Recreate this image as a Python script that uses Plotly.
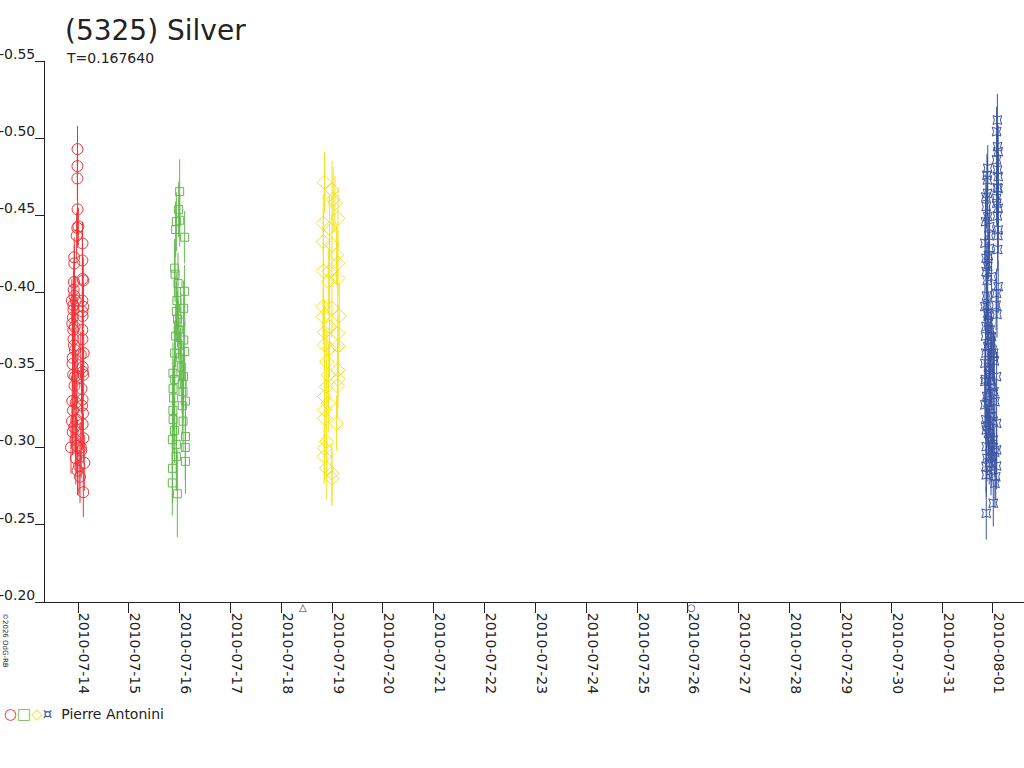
import plotly.graph_objects as go

FONT = "DejaVu Sans"
TXT = "#222222"

# ---------------- data ----------------
red_t = ["2010-07-13 23:46","2010-07-13 23:44","2010-07-13 23:42","2010-07-13 23:48","2010-07-13 23:40","2010-07-14 00:10","2010-07-13 23:22","2010-07-14 02:07","2010-07-13 22:13","2010-07-13 22:16",
"2010-07-14 02:04","2010-07-13 22:05","2010-07-14 02:09","2010-07-14 02:30","2010-07-13 22:15","2010-07-13 22:55","2010-07-14 02:04","2010-07-13 21:48","2010-07-14 02:30","2010-07-13 21:50",
"2010-07-14 02:05","2010-07-14 02:10","2010-07-13 21:19","2010-07-13 21:46","2010-07-14 02:03","2010-07-13 21:52","2010-07-14 02:06","2010-07-13 22:35","2010-07-14 01:19","2010-07-13 21:25",
"2010-07-14 02:12","2010-07-13 21:44","2010-07-14 02:28","2010-07-14 02:14","2010-07-13 22:38","2010-07-13 21:17","2010-07-14 02:08","2010-07-13 23:00","2010-07-13 21:12","2010-07-14 02:11",
"2010-07-13 21:28","2010-07-14 02:32","2010-07-13 20:41","2010-07-13 23:24","2010-07-14 01:21","2010-07-13 22:58","2010-07-14 02:58","2010-07-13 23:47","2010-07-14 00:57","2010-07-14 02:30",
"2010-07-13 21:05","2010-07-13 21:35","2010-07-13 22:05","2010-07-13 21:30","2010-07-13 22:20","2010-07-13 21:40","2010-07-13 22:10","2010-07-13 22:45","2010-07-14 01:40","2010-07-14 01:55",
"2010-07-14 02:20","2010-07-14 01:30","2010-07-13 23:10","2010-07-13 23:30","2010-07-14 00:30","2010-07-13 22:25","2010-07-13 21:58","2010-07-14 02:40"]
red_mag = [-0.493,-0.482,-0.474,-0.454,-0.442,-0.443,-0.437,-0.432,-0.423,-0.419,
-0.421,-0.407,-0.409,-0.408,-0.398,-0.395,-0.395,-0.392,-0.391,-0.389,
-0.388,-0.385,-0.380,-0.376,-0.376,-0.370,-0.370,-0.363,-0.360,-0.354,
-0.352,-0.347,-0.347,-0.349,-0.346,-0.330,-0.331,-0.329,-0.317,-0.315,
-0.310,-0.306,-0.300,-0.301,-0.300,-0.293,-0.290,-0.285,-0.281,-0.271,
-0.395,-0.384,-0.366,-0.358,-0.340,-0.324,-0.313,-0.305,-0.338,-0.327,
-0.322,-0.298,-0.318,-0.345,-0.288,-0.378,-0.402,-0.361]
red_err = [0.015,0.012,0.014,0.016,0.013,0.012,0.015,0.014,0.013,0.012,
0.016,0.014,0.013,0.015,0.014,0.016,0.013,0.015,0.014,0.016,
0.012,0.015,0.014,0.016,0.013,0.015,0.016,0.014,0.015,0.016,
0.014,0.015,0.016,0.013,0.017,0.015,0.016,0.018,0.016,0.017,
0.015,0.016,0.017,0.018,0.016,0.017,0.018,0.016,0.017,0.016,
0.014,0.015,0.016,0.015,0.016,0.017,0.016,0.017,0.016,0.016,
0.017,0.018,0.017,0.016,0.018,0.015,0.014,0.015]

green_t = ["2010-07-16 00:00","2010-07-15 23:32","2010-07-16 00:02","2010-07-15 22:26","2010-07-15 22:07","2010-07-16 02:22","2010-07-15 21:38","2010-07-15 21:50","2010-07-15 23:13","2010-07-16 02:20",
"2010-07-15 22:26","2010-07-16 01:53","2010-07-15 22:07","2010-07-16 01:55","2010-07-15 21:38","2010-07-16 02:22","2010-07-15 20:50","2010-07-15 21:40","2010-07-16 01:50","2010-07-15 20:52",
"2010-07-16 01:34","2010-07-16 02:43","2010-07-15 20:48","2010-07-15 20:55","2010-07-16 01:36","2010-07-15 21:36","2010-07-15 20:33","2010-07-16 02:45","2010-07-15 22:24","2010-07-16 02:40",
"2010-07-15 22:28","2010-07-16 02:43","2010-07-15 20:35","2010-07-15 20:31","2010-07-15 22:54","2010-07-15 23:00","2010-07-15 23:20","2010-07-15 23:45","2010-07-16 00:20","2010-07-16 00:45",
"2010-07-16 01:10","2010-07-15 22:40","2010-07-16 00:35","2010-07-16 01:15","2010-07-15 21:10"]
green_mag = [-0.4655,-0.454,-0.447,-0.446,-0.441,-0.436,-0.416,-0.412,-0.406,-0.401,
-0.388,-0.390,-0.372,-0.3695,-0.361,-0.362,-0.348,-0.344,-0.346,-0.338,
-0.336,-0.330,-0.324,-0.318,-0.317,-0.311,-0.305,-0.307,-0.302,-0.300,
-0.294,-0.291,-0.2865,-0.277,-0.270,-0.383,-0.376,-0.366,-0.358,-0.352,
-0.341,-0.395,-0.381,-0.327,-0.332]
green_err = [0.021,0.018,0.017,0.019,0.018,0.017,0.019,0.018,0.020,0.017,
0.019,0.018,0.020,0.018,0.021,0.019,0.020,0.019,0.021,0.019,
0.020,0.019,0.021,0.022,0.020,0.021,0.020,0.022,0.020,0.021,
0.022,0.021,0.022,0.021,0.028,0.018,0.019,0.018,0.019,0.018,
0.019,0.018,0.019,0.018,0.021]

yellow_t = ["2010-07-18 20:24","2010-07-18 23:56","2010-07-19 00:30","2010-07-19 01:18","2010-07-19 02:44","2010-07-18 19:48","2010-07-18 22:44","2010-07-18 19:50","2010-07-18 23:52","2010-07-19 02:06",
"2010-07-19 02:42","2010-07-18 19:52","2010-07-18 22:40","2010-07-19 02:40","2010-07-18 22:12","2010-07-18 19:46","2010-07-18 23:54","2010-07-19 03:21","2010-07-18 19:48","2010-07-18 22:40",
"2010-07-19 02:42","2010-07-18 20:26","2010-07-18 20:22","2010-07-19 02:45","2010-07-18 22:44","2010-07-18 21:24","2010-07-19 02:42","2010-07-18 22:12","2010-07-19 02:44","2010-07-19 02:30",
"2010-07-18 21:24","2010-07-18 20:26","2010-07-18 22:10","2010-07-18 20:30","2010-07-19 02:06","2010-07-18 20:28","2010-07-18 21:22","2010-07-18 20:26","2010-07-18 20:14","2010-07-18 21:26",
"2010-07-18 23:50","2010-07-18 23:56"]
yellow_mag = [-0.4715,-0.4666,-0.4605,-0.4579,-0.4482,-0.445,-0.4418,-0.4331,-0.431,-0.4245,
-0.4191,-0.4142,-0.4137,-0.4094,-0.4073,-0.3911,-0.390,-0.3851,-0.3846,-0.3782,
-0.3738,-0.3745,-0.3663,-0.3657,-0.3641,-0.3555,-0.3501,-0.3469,-0.3441,-0.3398,
-0.3393,-0.3329,-0.3286,-0.3243,-0.3156,-0.3189,-0.3038,-0.2995,-0.2941,-0.2865,
-0.2833,-0.2801]
yellow_err = [0.020,0.019,0.021,0.018,0.020,0.019,0.021,0.018,0.020,0.019,
0.021,0.018,0.020,0.019,0.021,0.020,0.019,0.021,0.018,0.020,
0.019,0.021,0.018,0.020,0.019,0.021,0.018,0.020,0.019,0.021,
0.018,0.020,0.019,0.021,0.018,0.020,0.019,0.021,0.018,0.020,
0.019,0.018]

blue_t = ["2010-08-01 02:06","2010-08-01 01:44","2010-08-01 02:10","2010-08-01 02:30","2010-08-01 01:44","2010-07-31 21:33","2010-08-01 02:08","2010-08-01 02:30","2010-07-31 21:25","2010-08-01 02:28",
"2010-07-31 21:28","2010-08-01 01:44","2010-07-31 20:51","2010-08-01 02:30","2010-07-31 21:33","2010-08-01 02:06","2010-07-31 22:26","2010-08-01 02:30","2010-07-31 20:13","2010-07-31 22:20",
"2010-07-31 20:45","2010-07-31 21:33","2010-07-31 20:48","2010-07-31 23:22","2010-08-01 02:30","2010-08-01 01:44","2010-07-31 20:13","2010-07-31 21:33","2010-07-31 20:45","2010-07-31 23:22",
"2010-07-31 21:35","2010-08-01 00:10","2010-07-31 20:13","2010-07-31 22:26","2010-08-01 01:44","2010-07-31 20:15","2010-07-31 22:20","2010-08-01 00:57","2010-07-31 20:13","2010-07-31 22:26",
"2010-08-01 01:44","2010-07-31 20:51","2010-08-01 00:10","2010-08-01 01:44","2010-07-31 20:51","2010-07-31 23:22","2010-07-31 20:45","2010-08-01 01:44","2010-07-31 20:51","2010-08-01 00:57",
"2010-08-01 00:10","2010-07-31 20:51",
"2010-07-31 21:00","2010-07-31 21:15","2010-07-31 21:45","2010-07-31 22:00","2010-07-31 22:40","2010-07-31 23:00","2010-07-31 23:40","2010-08-01 00:20","2010-08-01 00:40","2010-07-31 21:50",
"2010-07-31 22:10","2010-07-31 22:50","2010-07-31 23:30","2010-08-01 00:30","2010-07-31 21:05","2010-07-31 21:40","2010-07-31 22:35","2010-07-31 23:10","2010-08-01 00:05","2010-07-31 21:20",
"2010-07-31 21:55","2010-07-31 22:45","2010-07-31 23:50","2010-08-01 00:50","2010-07-31 21:10","2010-07-31 22:15","2010-07-31 23:05","2010-08-01 01:20","2010-07-31 20:30","2010-07-31 20:40",
"2010-07-31 20:25","2010-07-31 20:35","2010-08-01 01:30","2010-08-01 01:55","2010-08-01 02:15","2010-08-01 02:20","2010-08-01 01:50","2010-08-01 02:00","2010-07-31 21:20","2010-07-31 21:50",
"2010-07-31 22:05","2010-07-31 20:30","2010-07-31 20:40","2010-07-31 21:10"]
blue_mag = [-0.5118,-0.5043,-0.4946,-0.4913,-0.486,-0.4806,-0.4795,-0.4752,-0.473,-0.4676,
-0.4644,-0.4612,-0.4558,-0.4547,-0.4493,-0.4497,-0.4428,-0.4407,-0.4321,-0.4288,
-0.4224,-0.417,-0.4137,-0.4105,-0.404,-0.3997,-0.3911,-0.3868,-0.3782,-0.3717,
-0.3652,-0.3587,-0.3544,-0.3501,-0.3458,-0.3426,-0.335,-0.3296,-0.3275,-0.3221,
-0.3156,-0.3113,-0.3048,-0.2984,-0.3005,-0.2941,-0.2876,-0.288,-0.2822,-0.2768,
-0.2639,-0.2574,
-0.398,-0.392,-0.385,-0.381,-0.376,-0.369,-0.363,-0.361,-0.356,-0.352,
-0.347,-0.343,-0.339,-0.336,-0.333,-0.329,-0.325,-0.320,-0.317,-0.314,
-0.309,-0.306,-0.302,-0.297,-0.293,-0.290,-0.285,-0.281,-0.372,-0.361,
-0.344,-0.318,-0.392,-0.386,-0.428,-0.437,-0.458,-0.468,-0.408,-0.424,
-0.437,-0.446,-0.462,-0.476]
blue_err = [0.017,0.016,0.015,0.017,0.016,0.015,0.014,0.016,0.015,0.017,
0.015,0.016,0.014,0.017,0.015,0.016,0.014,0.015,0.016,0.014,
0.015,0.016,0.014,0.015,0.017,0.016,0.015,0.014,0.016,0.015,
0.014,0.016,0.015,0.014,0.016,0.015,0.014,0.016,0.015,0.014,
0.016,0.015,0.014,0.016,0.015,0.014,0.016,0.015,0.014,0.016,
0.015,0.017,0.015,0.014,0.016,0.015,0.014,0.016,0.015,0.014,
0.016,0.015,0.014,0.016,0.015,0.014,0.016,0.015,0.014,0.016,
0.015,0.014,0.016,0.015,0.014,0.016,0.015,0.014,0.016,0.015,
0.014,0.016,0.015,0.014,0.016,0.015,0.014,0.016,0.015,0.014,
0.016,0.015,0.014,0.016,0.015,0.014]

# moon phases (first quarter, full moon), drawn just under the time axis
moon_t = ["2010-07-18 10:11", "2010-07-26 01:37"]
moon_glyph = ["△", "○"]

y_tickvals = [-0.55, -0.50, -0.45, -0.40, -0.35, -0.30, -0.25, -0.20]
y_ticktext = ["-0.55", "-0.50", "-0.45", "-0.40", "-0.35", "-0.30", "-0.25", "-0.20"]
x_tickvals = ["2010-07-14","2010-07-15","2010-07-16","2010-07-17","2010-07-18","2010-07-19","2010-07-20",
              "2010-07-21","2010-07-22","2010-07-23","2010-07-24","2010-07-25","2010-07-26","2010-07-27",
              "2010-07-28","2010-07-29","2010-07-30","2010-07-31","2010-08-01"]
x_ticktext = list(x_tickvals)

RED, GREEN, YELLOW, BLUE = "#EE3338", "#63B84E", "#F4E21C", "#3B55A3"

series = [
    (red_t, red_mag, red_err, RED, "circle-open", 11),
    (green_t, green_mag, green_err, GREEN, "square-open", 8),
    (yellow_t, yellow_mag, yellow_err, YELLOW, "diamond-open", 11),
    (blue_t, blue_mag, blue_err, BLUE, "star-square-open", 8),
]

fig = go.Figure()
for t, m, e, col, sym, sz in series:
    fig.add_trace(go.Scatter(
        x=t, y=m, mode="markers",
        marker=dict(symbol=sym, size=sz, color=col, line=dict(width=1, color=col)),
        error_y=dict(type="data", array=e, visible=True, thickness=1, width=0, color=col),
        showlegend=False, hoverinfo="skip"))

W, H = 1024, 768
L, R, T, B = 45, 0, 61, H - 602
pw, ph = W - L - R, H - T - B

def px(x):  # pixel x -> paper
    return (x - L) / pw

def py(y):  # pixel y -> paper
    return (H - B - y) / ph

annotations = [
    dict(text="T=0.167640", xref="paper", yref="paper", x=px(64), y=py(58),
         xanchor="left", yanchor="middle", showarrow=False,
         font=dict(family=FONT, size=14, color=TXT)),
    dict(text=("<span style='color:%s;font-size:15px'>○</span>"
               "<span style='color:%s;font-size:15px'>□</span>"
               "<span style='color:%s;font-size:15px'>◇</span>"
               "<span style='color:%s;font-size:15px'>¤</span>  Pierre Antonini")
              % (RED, GREEN, YELLOW, BLUE),
         xref="paper", yref="paper", x=px(2), y=py(714),
         xanchor="left", yanchor="middle", showarrow=False,
         font=dict(family=FONT, size=14, color=TXT)),
    dict(text="©2026 OdG-RB", textangle=90, xref="paper", yref="paper",
         x=px(5), y=py(640), xanchor="center", yanchor="middle", showarrow=False,
         font=dict(family=FONT, size=7, color=TXT)),
]
for t, g in zip(moon_t, moon_glyph):
    annotations.append(dict(text=g, xref="x", yref="paper", x=t, y=py(607),
                            xanchor="center", yanchor="middle", showarrow=False,
                            font=dict(family=FONT, size=10, color="#333333")))

fig.update_layout(
    template="none",
    width=W, height=H,
    margin=dict(l=L, r=R, t=T, b=B, pad=0, autoexpand=False),
    paper_bgcolor="white", plot_bgcolor="white",
    font=dict(family=FONT, size=14, color=TXT),
    showlegend=False,
    title=dict(text="(5325) Silver", x=65 / W, xref="container", xanchor="left",
               y=1 - 30 / H, yref="container", yanchor="middle",
               font=dict(family=FONT, size=28, color=TXT), automargin=False),
    xaxis=dict(type="date", range=["2010-07-13 08:25", "2010-08-01 14:40"],
               tickvals=x_tickvals, ticktext=x_ticktext, tickangle=90,
               ticks="outside", ticklen=10, tickcolor=TXT, tickwidth=1,
               showline=True, linecolor=TXT, linewidth=1,
               showgrid=False, zeroline=False, automargin=False,
               tickfont=dict(family=FONT, size=14, color=TXT),
               ticklabelshift=6, ticklabelstandoff=-3),
    yaxis=dict(range=[-0.20, -0.55], tickvals=y_tickvals, ticktext=y_ticktext,
               ticks="outside", ticklen=9, tickcolor=TXT, tickwidth=1,
               showline=True, linecolor=TXT, linewidth=1,
               showgrid=False, zeroline=False, automargin=False,
               tickfont=dict(family=FONT, size=14, color=TXT),
               ticklabelshift=7, ticklabelstandoff=-3),
    annotations=annotations,
)

# remove the browser's default 8px page margin so the 1024x768 figure fills the window
fig.write_html("out.html", config={"displayModeBar": False},
               post_script="document.body.style.margin='0';document.body.style.overflow='hidden';")
